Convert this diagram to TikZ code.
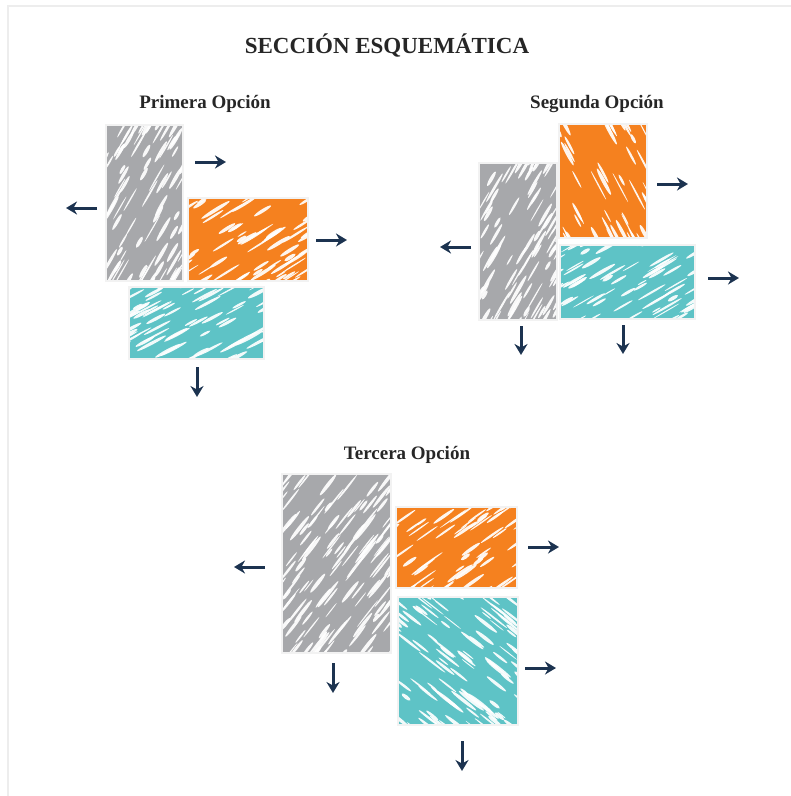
\documentclass[tikz,border=0pt]{standalone}
\usepackage{fontspec}
\setmainfont{Liberation Serif}
\usetikzlibrary{arrows.meta}
\definecolor{slab}{HTML}{A7A8AB}
\definecolor{clay}{HTML}{F5811F}
\definecolor{aqua}{HTML}{5EC3C6}
\definecolor{navy}{HTML}{1C3350}

% block filled with white scribble streaks
% #1 colour, #2..#5 corners, #6 streak angle, #7 streak count
\newcommand{\scribblebox}[7]{%
  \fill[#1] (#2,#3) rectangle (#4,#5);
  \begin{scope}
    \clip (#2,#3) rectangle (#4,#5);
    \foreach \k in {1,...,#7} {
      \pgfmathsetmacro{\sx}{#2-8+(#4-#2+16)*rnd}
      \pgfmathsetmacro{\sy}{#3-8+(#5-#3+16)*rnd}
      \pgfmathsetmacro{\sl}{5+12*rnd}
      \pgfmathsetmacro{\sw}{0.5+1.4*rnd}
      \fill[white, opacity=0.92, shift={(\sx,\sy)}, rotate=#6] (0,0) ellipse (\sl pt and \sw pt);
    }
  \end{scope}
  \draw[rim] (#2,#3) rectangle (#4,#5);
}

\begin{document}
\begin{tikzpicture}[x=1pt, y=-1pt]
    \tikzset{
        heading/.style={font=\fontsize{23}{26}\selectfont\bfseries, text=black!85, inner sep=0pt},
        option/.style={font=\fontsize{19}{22}\selectfont\bfseries, text=black!85, inner sep=0pt},
        rim/.style={draw=white!90!gray, line width=1.2pt},
        push/.style={-{Stealth[length=11pt,width=13pt]}, line width=3pt, draw=navy},
        frame/.style={draw=black!7, line width=1.5pt}
    }
    \pgfmathsetseed{17}
    \useasboundingbox (0,0) rectangle (791,796);
    \draw[frame] (8,796) -- (8,6) -- (791,6);

    \node[heading] (title) at (387,45) {SECCIÓN ESQUEMÁTICA};

    % Primera Opcion
    \node[option] (opt1) at (205,104) {Primera Opción};
    \scribblebox{slab}{106}{125}{183}{281}{60}{95}
    \scribblebox{clay}{188}{198}{308}{281}{32}{60}
    \scribblebox{aqua}{129}{287}{264}{359}{28}{75}
    \draw[push] (195,162) -- (226,162);
    \draw[push] (97,208) -- (66,208);
    \draw[push] (316,240) -- (347,240);
    \draw[push] (197,367) -- (197,397);

    % Segunda Opcion
    \node[option] (opt2) at (597,104) {Segunda Opción};
    \scribblebox{clay}{559}{124}{647}{238}{-62}{50}
    \scribblebox{slab}{479}{163}{557}{320}{60}{95}
    \scribblebox{aqua}{560}{245}{695}{319}{30}{75}
    \draw[push] (657,184) -- (688,184);
    \draw[push] (471,247) -- (440,247);
    \draw[push] (708,278) -- (739,278);
    \draw[push] (521,326) -- (521,355);
    \draw[push] (623,325) -- (623,354);

    % Tercera Opcion
    \node[option] (opt3) at (407,455) {Tercera Opción};
    \scribblebox{slab}{282}{474}{391}{653}{52}{130}
    \scribblebox{clay}{396}{507}{517}{588}{35}{60}
    \scribblebox{aqua}{398}{597}{518}{725}{-38}{100}
    \draw[push] (265,567) -- (234,567);
    \draw[push] (528,547) -- (559,547);
    \draw[push] (525,668) -- (556,668);
    \draw[push] (333,663) -- (333,693);
    \draw[push] (462,741) -- (462,771);

\end{tikzpicture}
\end{document}
